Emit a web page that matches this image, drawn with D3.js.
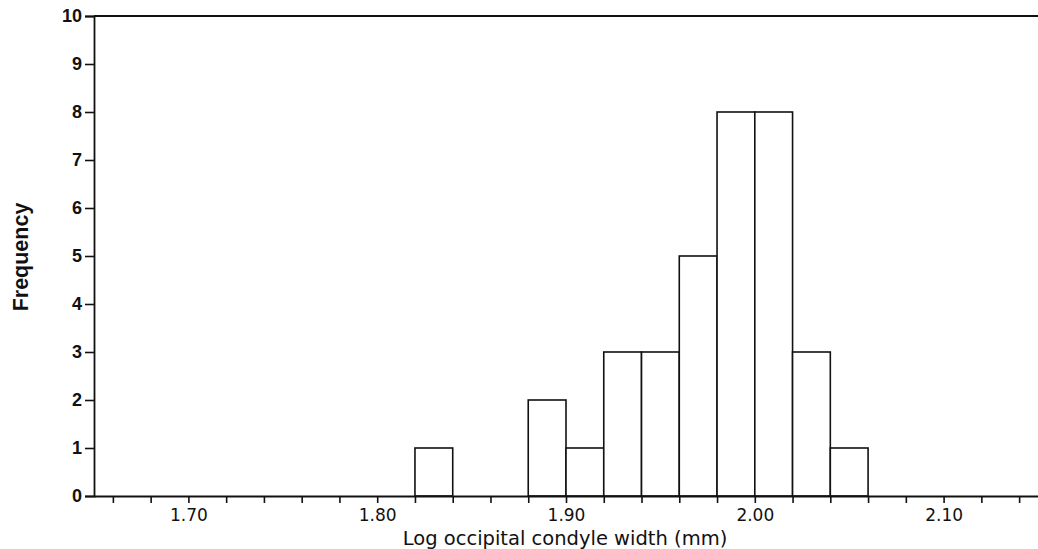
<!DOCTYPE html>
<html>
<head>
<meta charset="utf-8">
<script src="https://cdn.jsdelivr.net/npm/d3@7"></script>
<style>
  html, body { margin: 0; padding: 0; background: #fff; }
  svg { display: block; }
</style>
</head>
<body>
<svg id="chart" width="1038" height="549"></svg>
<script>
// ---- data ----
const binLower = [1.82, 1.88, 1.90, 1.92, 1.94, 1.96, 1.98, 2.00, 2.02, 2.04];
const binUpper = [1.84, 1.90, 1.92, 1.94, 1.96, 1.98, 2.00, 2.02, 2.04, 2.06];
const frequency = [1, 2, 1, 3, 3, 5, 8, 8, 3, 1];
const yTicks = [0, 1, 2, 3, 4, 5, 6, 7, 8, 9, 10];
const xMinorTicks = [1.66, 1.68, 1.70, 1.72, 1.74, 1.76, 1.78, 1.80, 1.82, 1.84, 1.86, 1.88, 1.90,
                     1.92, 1.94, 1.96, 1.98, 2.00, 2.02, 2.04, 2.06, 2.08, 2.10, 2.12, 2.14];
const xLabelTicks = ["1.70", "1.80", "1.90", "2.00", "2.10"];
const xTitle = "Log occipital condyle width (mm)";
const yTitle = "Frequency";

// ---- layout ----
const svg = d3.select("#chart");
const x = d3.scaleLinear().domain([1.65, 2.15]).range([94, 1038]);
const y = d3.scaleLinear().domain([0, 10]).range([496, 16]);

const stroke = "#111";

// bars
svg.append("g").selectAll("rect")
  .data(frequency)
  .join("rect")
  .attr("x", (d, i) => x(binLower[i]))
  .attr("width", (d, i) => x(binUpper[i]) - x(binLower[i]))
  .attr("y", d => y(d))
  .attr("height", d => y(0) - y(d))
  .attr("fill", "#fff")
  .attr("stroke", stroke)
  .attr("stroke-width", 1.6);

// top border
svg.append("line")
  .attr("x1", x(1.65)).attr("x2", x(2.15))
  .attr("y1", y(10)).attr("y2", y(10))
  .attr("stroke", stroke).attr("stroke-width", 1.8);

// y axis
const yAxis = svg.append("g")
  .attr("transform", `translate(${x(1.65)},0)`)
  .call(d3.axisLeft(y).tickValues(yTicks).tickSize(9).tickPadding(3).tickFormat(d3.format("d")));
yAxis.select(".domain").attr("stroke", stroke).attr("stroke-width", 1.8);
yAxis.selectAll(".tick line").attr("stroke", stroke).attr("stroke-width", 1.6);
yAxis.selectAll(".tick text")
  .attr("font-family", "'Liberation Sans', Arial, sans-serif")
  .attr("font-weight", "bold")
  .attr("font-size", 18)
  .attr("fill", stroke);

// x axis
const labelSet = new Set(xLabelTicks);
const xAxis = svg.append("g")
  .attr("transform", `translate(0,${y(0)})`)
  .call(d3.axisBottom(x).tickValues(xMinorTicks).tickSize(7).tickPadding(6)
    .tickSizeOuter(0)
    .tickFormat(d => labelSet.has(d.toFixed(2)) ? d.toFixed(2) : ""));
xAxis.select(".domain").attr("stroke", stroke).attr("stroke-width", 1.8);
xAxis.selectAll(".tick line").attr("stroke", stroke).attr("stroke-width", 1.6);
xAxis.selectAll(".tick text")
  .attr("font-family", "'DejaVu Sans', sans-serif")
  .attr("font-size", 17)
  .attr("fill", stroke);

// axis titles
svg.append("text")
  .attr("x", 565)
  .attr("y", 544.5)
  .attr("text-anchor", "middle")
  .attr("font-family", "'DejaVu Sans', sans-serif")
  .attr("font-size", 19.5)
  .attr("fill", stroke)
  .text(xTitle);

svg.append("text")
  .attr("transform", `translate(28,257) rotate(-90)`)
  .attr("text-anchor", "middle")
  .attr("font-family", "'Liberation Sans', Arial, sans-serif")
  .attr("font-weight", "bold")
  .attr("font-size", 21.5)
  .attr("fill", stroke)
  .text(yTitle);
</script>
</body>
</html>
